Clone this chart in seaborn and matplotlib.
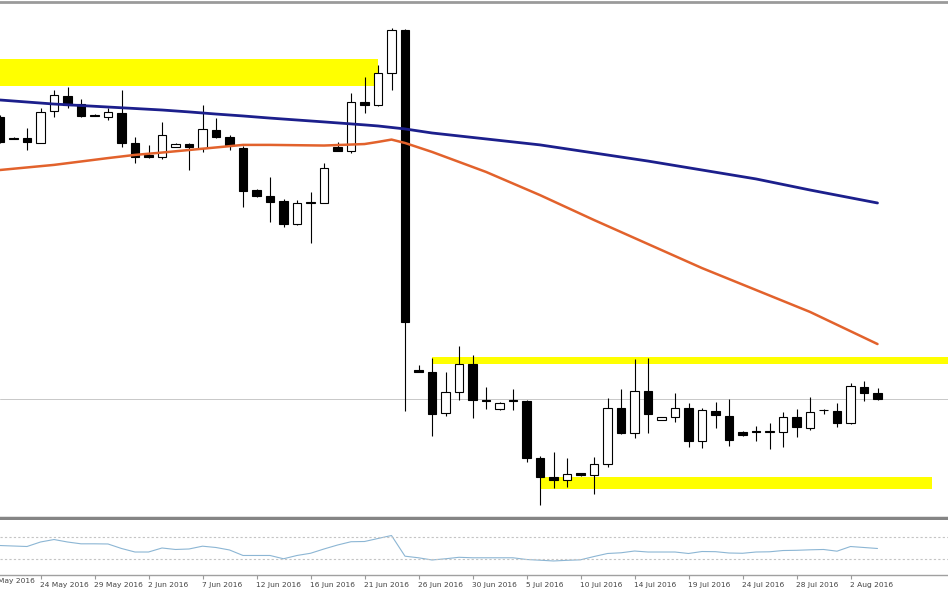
import matplotlib
matplotlib.use("Agg")
import matplotlib.pyplot as plt
import numpy as np
import pandas as pd
import seaborn as sns

# trading calendar (Sunday bars included, no Saturdays)
calendar = pd.date_range("2016-05-19", "2016-08-12")
calendar = calendar[calendar.dayofweek != 5]

candle_dates = calendar[(calendar >= "2016-05-20") & (calendar <= "2016-08-04")]

opens = [1.4591, 1.4493, 1.4491, 1.4470, 1.4619, 1.4690, 1.4652, 1.4601, 1.4593, 1.4611,
         1.4470, 1.4413, 1.4405, 1.4452, 1.4464, 1.4444, 1.4530, 1.4499, 1.4445, 1.4248,
         1.4221, 1.4198, 1.4088, 1.4187, 1.4188, 1.4452, 1.4433, 1.4663, 1.4648, 1.4799,
         1.5000, 1.3402, 1.3394, 1.3198, 1.3300, 1.3429, 1.3261, 1.3220, 1.3259, 1.3256,
         1.2990, 1.2899, 1.2885, 1.2916, 1.2909, 1.2960, 1.3222, 1.3104, 1.3305, 1.3167,
         1.3183, 1.3222, 1.3070, 1.3209, 1.3186, 1.3112, 1.3113, 1.3111, 1.3112, 1.3183,
         1.3128, 1.3214, 1.3211, 1.3151, 1.3324, 1.3292]
highs = [1.4601, 1.4497, 1.4539, 1.4633, 1.4718, 1.4732, 1.4676, 1.4603, 1.4633, 1.4718,
         1.4497, 1.4460, 1.4569, 1.4467, 1.4467, 1.4648, 1.4586, 1.4507, 1.4455, 1.4253,
         1.4311, 1.4206, 1.4201, 1.4240, 1.4373, 1.4475, 1.4702, 1.4781, 1.4836, 1.5008,
         1.5005, 1.3426, 1.3457, 1.3394, 1.3515, 1.3473, 1.3324, 1.3252, 1.3313, 1.3261,
         1.2998, 1.3018, 1.2987, 1.2918, 1.2992, 1.3269, 1.3311, 1.3452, 1.3457, 1.3181,
         1.3292, 1.3245, 1.3223, 1.3253, 1.3264, 1.3115, 1.3139, 1.3151, 1.3206, 1.3217,
         1.3277, 1.3217, 1.3245, 1.3339, 1.3350, 1.3316]
lows = [1.4469, 1.4488, 1.4436, 1.4467, 1.4593, 1.4633, 1.4591, 1.4596, 1.4577, 1.4452,
        1.4375, 1.4398, 1.4392, 1.4450, 1.4342, 1.4428, 1.4492, 1.4436, 1.4170, 1.4215,
        1.4099, 1.4076, 1.4084, 1.3997, 1.4185, 1.4431, 1.4420, 1.4608, 1.4643, 1.4718,
        1.3209, 1.3393, 1.3092, 1.3186, 1.3261, 1.3176, 1.3219, 1.3216, 1.3214, 1.2971,
        1.2768, 1.2847, 1.2854, 1.2906, 1.2819, 1.2945, 1.3101, 1.3081, 1.3104, 1.3165,
        1.3159, 1.3042, 1.3034, 1.3128, 1.3045, 1.3094, 1.3070, 1.3029, 1.3042, 1.3089,
        1.3120, 1.3195, 1.3136, 1.3148, 1.3258, 1.3261]
closes = [1.4474, 1.4490, 1.4474, 1.4616, 1.4695, 1.4648, 1.4596, 1.4597, 1.4616, 1.4470,
          1.4405, 1.4402, 1.4507, 1.4464, 1.4449, 1.4533, 1.4499, 1.4460, 1.4245, 1.4220,
          1.4193, 1.4088, 1.4185, 1.4192, 1.4350, 1.4433, 1.4663, 1.4648, 1.4799, 1.5000,
          1.3628, 1.3394, 1.3195, 1.3300, 1.3430, 1.3261, 1.3256, 1.3248, 1.3256, 1.2990,
          1.2901, 1.2885, 1.2913, 1.2909, 1.2960, 1.3222, 1.3104, 1.3305, 1.3195, 1.3180,
          1.3222, 1.3070, 1.3214, 1.3190, 1.3073, 1.3096, 1.3111, 1.3113, 1.3183, 1.3136,
          1.3203, 1.3212, 1.3154, 1.3327, 1.3292, 1.3266]

ma_dates = ["2016-05-20", "2016-05-25", "2016-05-30", "2016-06-01", "2016-06-03", "2016-06-06",
            "2016-06-08", "2016-06-10", "2016-06-13", "2016-06-17", "2016-06-21", "2016-06-22",
            "2016-06-23", "2016-06-24", "2016-06-27", "2016-07-01", "2016-07-06", "2016-07-11",
            "2016-07-15", "2016-07-20", "2016-07-25", "2016-07-29", "2016-08-04"]
ma_slow = [1.4671, 1.4652, 1.4638, 1.4631, 1.4624, 1.4615, 1.4605, 1.4596, 1.4586, 1.4568,
           1.4554, 1.4549, 1.4542, 1.4535, 1.4516, 1.4488, 1.4460, 1.4422, 1.4384, 1.4342,
           1.4300, 1.4248, 1.4187]
ma_fast = [1.4342, 1.4366, 1.4398, 1.4413, 1.4424, 1.4436, 1.4448, 1.4460, 1.4460, 1.4457,
           1.4464, 1.4474, 1.4485, 1.4469, 1.4427, 1.4333, 1.4224, 1.4107, 1.3994, 1.3881,
           1.3778, 1.3675, 1.3524]

rsi = [53.6, 52.7, 51.8, 60.0, 64.5, 60.0, 56.7, 56.7, 56.4, 48.2,
       41.8, 41.8, 49.1, 46.4, 47.3, 52.4, 50.0, 45.5, 35.5, 35.5,
       35.5, 29.5, 35.5, 39.5, 47.3, 54.5, 60.5, 60.9, 66.4, 71.8,
       34.2, 31.3, 27.3, 29.5, 32.2, 31.3, 31.3, 31.3, 31.3, 28.2,
       26.9, 25.5, 26.7, 27.6, 33.6, 39.1, 40.4, 43.6, 41.8, 41.8,
       41.8, 39.1, 42.7, 42.4, 40.0, 39.5, 41.8, 42.2, 44.5, 44.9,
       45.8, 46.4, 43.3, 51.8, 50.0, 48.2]
rsi_levels = [70, 30]

# highlighted zones: (low, high, from, to)
zone_lows = [1.4737, 1.3430, 1.2845]
zone_highs = [1.4862, 1.3462, 1.2901]
zone_starts = ["2016-05-19", "2016-06-27", "2016-07-06"]
zone_ends = ["2016-06-22", "2016-08-12", "2016-08-09"]

tick_dates = ["2016-05-19", "2016-05-24", "2016-05-29", "2016-06-02", "2016-06-07", "2016-06-12",
              "2016-06-16", "2016-06-21", "2016-06-26", "2016-06-30", "2016-07-05", "2016-07-10",
              "2016-07-14", "2016-07-19", "2016-07-24", "2016-07-28", "2016-08-02"]

pos = {d: i for i, d in enumerate(calendar)}


def xpos(d):
    return pos[pd.Timestamp(d)]


sns.set_style("white")
plt.rcParams["font.family"] = ["DejaVu Sans"]

fig = plt.figure(figsize=(9.48, 5.93), dpi=100)
ax = fig.add_axes([0, 75 / 593, 1, 516 / 593])
ax_rsi = fig.add_axes([0, 18 / 593, 1, 55 / 593])

x = np.array([pos[d] for d in candle_dates])
o = np.array(opens)
c = np.array(closes)

for lo, hi, s, e in zip(zone_lows, zone_highs, zone_starts, zone_ends):
    ax.fill_between([xpos(s), xpos(e)], lo, hi, color="#ffff00", lw=0, zorder=1)

# current price line
ax.axhline(closes[-1], color="#c8c8c8", lw=0.7, zorder=1.5)

ax.vlines(x, lows, highs, color="black", lw=0.8, zorder=2)
up = c >= o
ax.bar(x[up], c[up] - o[up], bottom=o[up], width=0.64, color="white",
       edgecolor="black", lw=0.8, zorder=3)
ax.bar(x[~up], c[~up] - o[~up], bottom=o[~up], width=0.64, color="black",
       edgecolor="black", lw=0.8, zorder=3)

ma = pd.DataFrame({"x": [xpos(d) for d in ma_dates], "slow": ma_slow, "fast": ma_fast})
sns.lineplot(data=ma, x="x", y="slow", ax=ax, color="#1c1f8c", lw=2, zorder=4)
sns.lineplot(data=ma, x="x", y="fast", ax=ax, color="#e2622c", lw=1.8, zorder=4)

xmin, xmax = 1, 1 + 948 / 13.5
ax.set_xlim(xmin, xmax)
ax.set_ylim(1.27064, 1.51316)
ax.set_xticks([])
ax.set_yticks([])
ax.set_xlabel("")
ax.set_ylabel("")
for side in ["left", "right"]:
    ax.spines[side].set_visible(False)
ax.spines["top"].set_color("#9a9a9a")
ax.spines["top"].set_linewidth(2)
ax.spines["bottom"].set_color("#858585")
ax.spines["bottom"].set_linewidth(2.5)

# indicator panel
rsi_df = pd.DataFrame({"x": x, "rsi": rsi})
sns.lineplot(data=rsi_df, x="x", y="rsi", ax=ax_rsi, color="#8cb6d4", lw=0.8)
for lvl in rsi_levels:
    ax_rsi.axhline(lvl, color="#c4c4c4", lw=0.8, linestyle=(0, (2, 2)))
ax_rsi.set_xlim(xmin, xmax)
ax_rsi.set_ylim(0, 100)
ax_rsi.set_yticks([])
ax_rsi.set_ylabel("")
ax_rsi.set_xlabel("")
for side in ["left", "right", "top"]:
    ax_rsi.spines[side].set_visible(False)
ax_rsi.spines["bottom"].set_color("#a0a0a0")
ax_rsi.spines["bottom"].set_linewidth(1)

labels = [f"{pd.Timestamp(d).day} {pd.Timestamp(d):%b %Y}" for d in tick_dates]
ticks = [xpos(d) for d in tick_dates]
visible = [(t, l) for t, l in zip(ticks, labels) if t >= xmin]
ax_rsi.set_xticks([t for t, _ in visible])
ax_rsi.set_xticklabels([l for _, l in visible], fontsize=5.4, color="#444444", ha="left")
ax_rsi.tick_params(axis="x", length=3, width=0.8, color="#999999", pad=2, bottom=True)
# first label sits left of the window and is cut by the edge, as in the source
for t, l in zip(ticks, labels):
    if t < xmin:
        ax_rsi.text(t, -0.05, l, transform=ax_rsi.get_xaxis_transform(),
                    fontsize=5.4, color="#444444", ha="left", va="top", clip_on=False)

fig.savefig("out.png", dpi=100)
plt.close(fig)
